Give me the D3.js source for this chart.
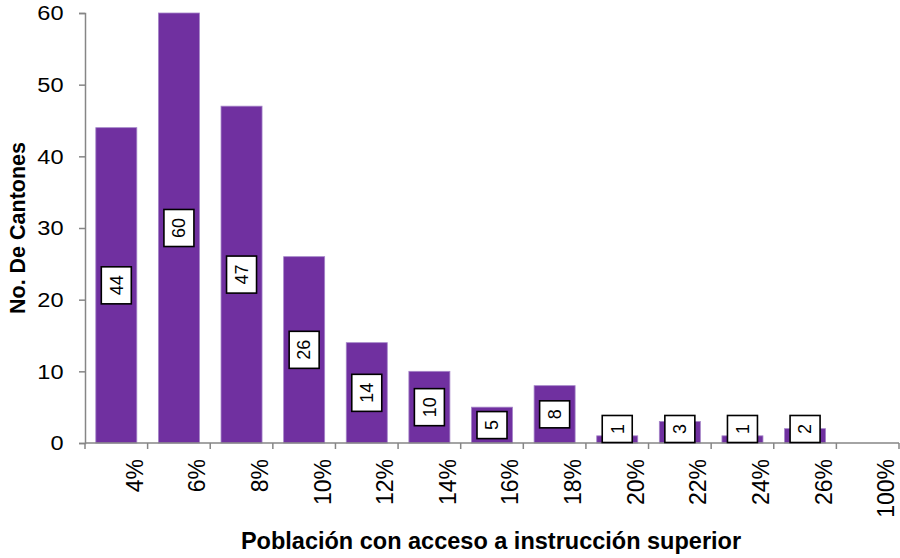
<!DOCTYPE html>
<html>
<head>
<meta charset="utf-8">
<script src="https://cdn.jsdelivr.net/npm/d3@7/dist/d3.min.js"></script>
<style>
  html, body { margin: 0; padding: 0; background: #fff; }
  svg { display: block; font-family: "Liberation Sans", Arial, sans-serif; }
</style>
</head>
<body>
<svg id="chart" width="900" height="558"></svg>
<script>
// Cantones por tramo de población con acceso a instrucción superior
const categories = ["4%", "6%", "8%", "10%", "12%", "14%", "16%", "18%", "20%", "22%", "24%", "26%", "100%"];
const counts = [44, 60, 47, 26, 14, 10, 5, 8, 1, 3, 1, 2, 0];
const yTicks = [0, 10, 20, 30, 40, 50, 60];

const svg = d3.select("#chart");
const margin = { left: 85, right: 1, top: 13, bottom: 115 };
const W = 900, H = 558;
const plotBottom = H - margin.bottom; // 443

const x = d3.scaleBand()
  .domain(categories)
  .range([margin.left, W - margin.right])
  .paddingInner(0.345)
  .paddingOuter(0.1725);

const y = d3.scaleLinear()
  .domain([0, 60])
  .range([plotBottom, margin.top]);

const axisColor = "#868686";

// bars
const data = categories.map((c, i) => ({ cat: c, v: counts[i] }));
svg.append("g").selectAll("rect")
  .data(data.filter(d => d.v > 0))
  .join("rect")
  .attr("x", d => x(d.cat))
  .attr("y", d => y(d.v))
  .attr("width", x.bandwidth())
  .attr("height", d => y(0) - y(d.v))
  .attr("fill", "#7030A0")
  .attr("stroke", "#a585c8")
  .attr("stroke-width", 0.8);

// y axis (line + ticks from d3, labels drawn slightly widened)
const yAxis = svg.append("g").attr("transform", `translate(${margin.left},0)`)
  .call(d3.axisLeft(y).tickValues(yTicks).tickSize(6).tickFormat(""));
yAxis.select(".domain").attr("stroke", axisColor).attr("stroke-width", 1.5);
yAxis.selectAll(".tick line").attr("stroke", axisColor).attr("stroke-width", 1.5);
svg.append("g").selectAll("text").data(yTicks).join("text")
  .attr("transform", d => `translate(63.5,${y(d)}) scale(1.15,1)`)
  .attr("text-anchor", "end")
  .attr("dy", "0.35em")
  .style("font-size", "20.5px")
  .attr("fill", "#000")
  .text(d => d);

// x axis: ticks at band boundaries
const step = x.step();
const bounds = d3.range(categories.length + 1).map(i => margin.left + i * step);
const xg = svg.append("g");
xg.append("line")
  .attr("x1", margin.left).attr("x2", W - margin.right)
  .attr("y1", plotBottom).attr("y2", plotBottom)
  .attr("stroke", axisColor).attr("stroke-width", 1.5);
xg.selectAll("line.tk").data(bounds).join("line").attr("class", "tk")
  .attr("x1", d => d).attr("x2", d => d)
  .attr("y1", plotBottom).attr("y2", plotBottom + 6)
  .attr("stroke", axisColor).attr("stroke-width", 1.5);
xg.selectAll("text").data(categories).join("text")
  .attr("transform", d => `translate(${x(d) + x.bandwidth() / 2 + 18.4},${plotBottom + 16}) rotate(-90)`)
  .attr("text-anchor", "end")
  .attr("dy", "0.35em")
  .style("font-size", "23px")
  .attr("fill", "#000")
  .text(d => d);

// value labels in boxed callouts
const lg = svg.append("g");
data.filter(d => d.v > 0).forEach(d => {
  const g = lg.append("g");
  const t = g.append("text")
    .attr("text-anchor", "middle")
    .attr("dy", "0.35em")
    .style("font-size", "18px")
    .attr("fill", "#000")
    .attr("transform", "rotate(-90)")
    .text(d.v);
  const len = t.node().getComputedTextLength();
  const bh = len + 17, bw = 30;
  const mid = (y(d.v) + y(0)) / 2;
  const cy = Math.min(mid, plotBottom - bh / 2 - 0.5);
  const cx = x(d.cat) + x.bandwidth() / 2;
  g.attr("transform", `translate(${cx},${cy})`);
  g.insert("rect", "text")
    .attr("x", -bw / 2).attr("y", -bh / 2)
    .attr("width", bw).attr("height", bh)
    .attr("fill", "#fff").attr("stroke", "#000").attr("stroke-width", 1.6);
});

// axis titles
svg.append("text")
  .attr("x", 491).attr("y", 549)
  .attr("text-anchor", "middle")
  .style("font-size", "23.5px").style("font-weight", "bold")
  .text("Población con acceso a instrucción superior");

svg.append("text")
  .attr("transform", "translate(25,228) rotate(-90)")
  .attr("text-anchor", "middle")
  .style("font-size", "21.5px").style("font-weight", "bold")
  .text("No. De Cantones");
</script>
</body>
</html>
